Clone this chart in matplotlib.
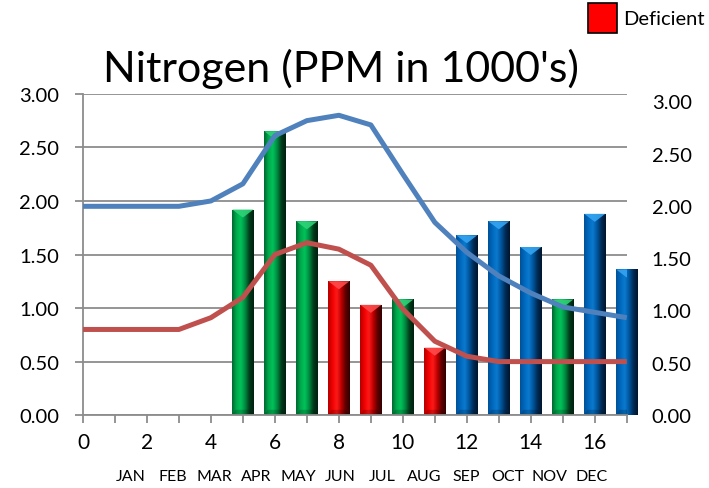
import numpy as np
import matplotlib
matplotlib.use("Agg")
import matplotlib.pyplot as plt
from matplotlib.colors import LinearSegmentedColormap
from matplotlib.patches import Polygon, Patch

plt.rcParams['font.family'] = ['Lato', 'DejaVu Sans']

# ---------------- data ----------------
months = ['JAN', 'FEB', 'MAR', 'APR', 'MAY', 'JUN', 'JUL', 'AUG', 'SEP', 'OCT', 'NOV', 'DEC']
line_x = list(range(18))
upper_line = [1.95, 1.95, 1.95, 1.95, 2.00, 2.16, 2.61, 2.75, 2.80, 2.71, 2.25,
              1.80, 1.52, 1.30, 1.14, 1.01, 0.96, 0.91]
lower_line = [0.80, 0.80, 0.80, 0.80, 0.91, 1.10, 1.50, 1.61, 1.55, 1.40, 0.99,
              0.69, 0.55, 0.50, 0.50, 0.50, 0.50, 0.50]
bar_x = list(range(5, 18))
bar_values = [1.92, 2.65, 1.81, 1.25, 1.03, 1.08, 0.63, 1.68, 1.81, 1.57, 1.08, 1.88, 1.36]
bar_status = ['adequate', 'adequate', 'adequate', 'deficient', 'deficient', 'adequate',
              'deficient', 'high', 'high', 'high', 'adequate', 'high', 'high']
y_ticks = [0.0, 0.5, 1.0, 1.5, 2.0, 2.5, 3.0]

# ---------------- styles ----------------
grad_colors = {
    'adequate': ['#00642f', '#00a84c', '#00c35a', '#008a40', '#003a1a', '#001f0d'],
    'deficient': ['#b00000', '#f00000', '#ff1a1a', '#c00000', '#5e0000', '#300000'],
    'high': ['#004f96', '#0068bd', '#0a7ad0', '#00559c', '#002a55', '#00152c'],
}
top_colors = {'adequate': '#2fd278', 'deficient': '#ff4a4a', 'high': '#35a4f0'}
grid_gray = '#8c8c8c'

fig = plt.figure(figsize=(7.09, 4.89), dpi=100)
ax = fig.add_axes([0.117, 0.149, 0.767, 0.657])

ax.set_xlim(0, 17)
ax.set_ylim(0, 3)

bars = ax.bar(bar_x, bar_values, width=0.66, color='none', edgecolor='none', zorder=2)
grad = np.linspace(0, 1, 256).reshape(1, -1)
for rect, st in zip(bars, bar_status):
    x0 = rect.get_x()
    w = rect.get_width()
    h = rect.get_height()
    cmap = LinearSegmentedColormap.from_list(st, grad_colors[st])
    im = ax.imshow(grad, extent=[x0, x0 + w, 0, h], aspect='auto', cmap=cmap,
                   interpolation='bicubic', zorder=2)
    im.set_clip_path(rect)
    d = 0.075
    tri = Polygon([[x0, h], [x0 + w, h], [x0 + w / 2, h - d]], closed=True,
                  facecolor=top_colors[st], edgecolor='none', zorder=2.1, alpha=0.9)
    ax.add_patch(tri)
    bot = Polygon([[x0, 0], [x0 + w, 0], [x0 + w * 0.85, 0.05], [x0 + w * 0.15, 0.05]],
                  closed=True, facecolor='black', alpha=0.18, edgecolor='none', zorder=2.1)
    ax.add_patch(bot)

ax.set_xlim(0, 17)
ax.set_ylim(0, 3)
ax.set_aspect('auto')

ax.plot(line_x, upper_line, color='#4f81bd', lw=3.6, zorder=4,
        solid_joinstyle='round', solid_capstyle='butt')
ax.plot(line_x, lower_line, color='#c0504d', lw=3.6, zorder=4,
        solid_joinstyle='round', solid_capstyle='butt')

ax.set_yticks(y_ticks)
ax.set_yticklabels([f'{v:.2f}' for v in y_ticks])
ax.set_xticks(line_x)
ax.set_xticklabels([str(v) if v % 2 == 0 else '' for v in line_x])
ax.yaxis.grid(True, color=grid_gray, lw=1.3, zorder=1)
ax.set_axisbelow(True)
ax.tick_params(axis='y', length=6, width=1.3, color=grid_gray, pad=11, labelsize=14.5)
ax.tick_params(axis='x', length=6, width=1.3, color=grid_gray, pad=6, labelsize=15)
for s in ['top', 'right']:
    ax.spines[s].set_visible(False)
for s in ['left', 'bottom']:
    ax.spines[s].set_color(grid_gray)
    ax.spines[s].set_linewidth(1.3)

# right-hand axis labels
ax2 = ax.twinx()
ax2.set_ylim(0.02, 3.07)
ax2.set_yticks(y_ticks)
ax2.set_yticklabels([f'{v:.2f}' for v in y_ticks])
ax2.tick_params(axis='y', length=0, pad=18, labelsize=14.5)
for s in ax2.spines.values():
    s.set_visible(False)

# month labels
ax3 = ax.twiny()
ax3.set_xlim(-1.15, 11.84)
ax3.set_xticks(range(len(months)))
ax3.set_xticklabels(months)
ax3.xaxis.set_ticks_position('bottom')
ax3.xaxis.set_label_position('bottom')
ax3.tick_params(axis='x', length=0, pad=39, labelsize=11.5)
for s in ax3.spines.values():
    s.set_visible(False)

fig.text(341 / 709, 1 - 82 / 489, "Nitrogen (PPM in 1000's)", ha='center', va='baseline',
         fontsize=31)

handle = Patch(facecolor='#ff0000', edgecolor='black', linewidth=1.2)
fig.legend([handle], ['Deficient'], loc='upper right', bbox_to_anchor=(1.0, 1.0),
           frameon=False, fontsize=14.5, handlelength=1.45, handleheight=1.9,
           handletextpad=0.3, borderaxespad=0.0, borderpad=0.2)

fig.savefig('out.png', dpi=100)
